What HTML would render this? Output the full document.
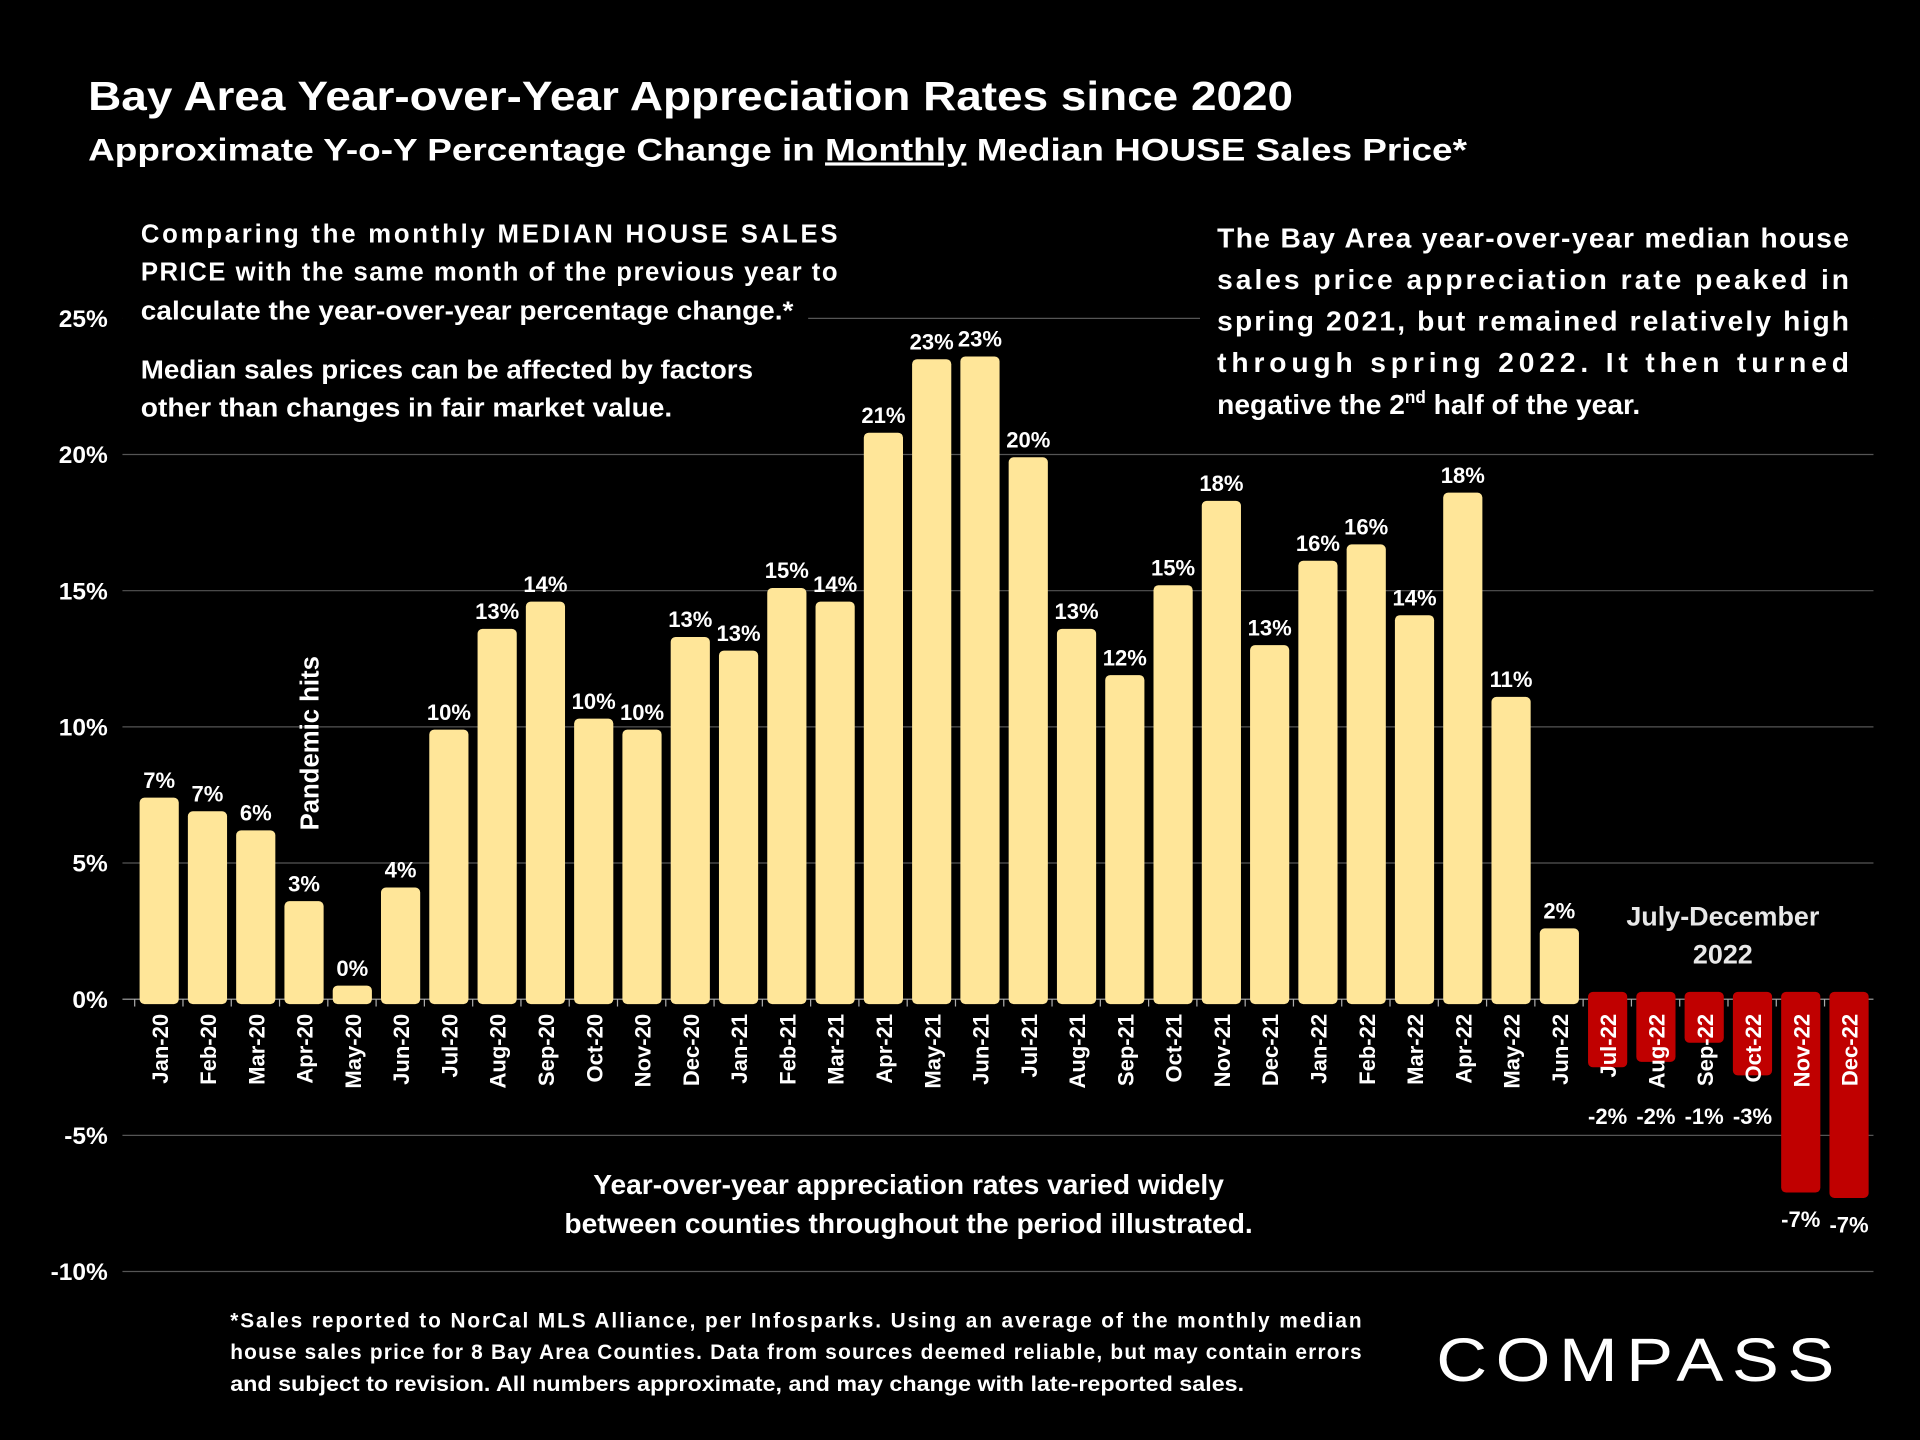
<!DOCTYPE html>
<html><head><meta charset="utf-8"><style>
html,body{margin:0;padding:0;background:#000;}
svg{display:block;font-family:"Liberation Sans",sans-serif;font-weight:bold;}
</style></head><body>
<svg id="chart" width="1920" height="1440" viewBox="0 0 1568 1176" xmlns="http://www.w3.org/2000/svg">
<rect width="1568" height="1176" fill="#000"/>
<text x="72" y="90" fill="#fff" font-size="33" textLength="984" lengthAdjust="spacingAndGlyphs">Bay Area Year-over-Year Appreciation Rates since 2020</text>
<text x="72" y="131" fill="#fff" font-size="26" textLength="1126" lengthAdjust="spacingAndGlyphs">Approximate Y-o-Y Percentage Change in <tspan text-decoration="underline">Monthly</tspan> Median HOUSE Sales Price*</text>
<g id="grid"></g>
<rect x="100" y="172" width="560" height="180" fill="#000"/>
<rect x="980" y="172" width="550" height="180" fill="#000"/>
<g id="yticks"></g>
<g id="bars"></g>
<g id="xlabels"></g>
<g id="vlabels"></g>
<g fill="#fff" font-size="21">
<text x="115" y="198" textLength="569" lengthAdjust="spacing">Comparing the monthly MEDIAN HOUSE SALES</text>
<text x="115" y="229" textLength="569" lengthAdjust="spacing">PRICE with the same month of the previous year to</text>
<text x="115" y="261" textLength="533" lengthAdjust="spacingAndGlyphs">calculate the year-over-year percentage change.*</text>
<text x="115" y="309" textLength="500" lengthAdjust="spacingAndGlyphs">Median sales prices can be affected by factors</text>
<text x="115" y="340" textLength="434" lengthAdjust="spacingAndGlyphs">other than changes in fair market value.</text>
</g>
<g fill="#fff" font-size="23">
<text x="994" y="202" textLength="516" lengthAdjust="spacing">The Bay Area year-over-year median house</text>
<text x="994" y="236" textLength="516" lengthAdjust="spacing">sales price appreciation rate peaked in</text>
<text x="994" y="270" textLength="516" lengthAdjust="spacing">spring 2021, but remained relatively high</text>
<text x="994" y="304" textLength="516" lengthAdjust="spacing">through spring 2022. It then turned</text>
<text x="994" y="338">negative the 2<tspan font-size="14" dy="-9">nd</tspan><tspan dy="9"> half of the year.</tspan></text>
</g>
<text transform="translate(260,607) rotate(-90)" text-anchor="middle" fill="#fff" font-size="21">Pandemic hits</text>
<g fill="#e8e8e8" font-size="22" text-anchor="middle">
<text x="1407" y="756">July-December</text><text x="1407" y="787">2022</text></g>
<g fill="#fff" font-size="23" text-anchor="middle">
<text x="742" y="975">Year-over-year appreciation rates varied widely</text>
<text x="742" y="1007">between counties throughout the period illustrated.</text></g>
<g fill="#fff" font-size="17">
<text x="188" y="1084" textLength="924" lengthAdjust="spacing">*Sales reported to NorCal MLS Alliance, per Infosparks. Using an average of the monthly median</text>
<text x="188" y="1110" textLength="924" lengthAdjust="spacing">house sales price for 8 Bay Area Counties. Data from sources deemed reliable, but may contain errors</text>
<text x="188" y="1136" textLength="828" lengthAdjust="spacingAndGlyphs">and subject to revision. All numbers approximate, and may change with late-reported sales.</text></g>
<text x="1173" y="1128" fill="#fff" font-size="50" font-weight="normal" letter-spacing="6" textLength="332" lengthAdjust="spacingAndGlyphs">COMPASS</text>
</svg>
<script>
const categories=["Jan-20","Feb-20","Mar-20","Apr-20","May-20","Jun-20","Jul-20","Aug-20","Sep-20","Oct-20","Nov-20","Dec-20","Jan-21","Feb-21","Mar-21","Apr-21","May-21","Jun-21","Jul-21","Aug-21","Sep-21","Oct-21","Nov-21","Dec-21","Jan-22","Feb-22","Mar-22","Apr-22","May-22","Jun-22","Jul-22","Aug-22","Sep-22","Oct-22","Nov-22","Dec-22"];
const values=[7.4,6.9,6.2,3.6,0.5,4.1,9.9,13.6,14.6,10.3,9.9,13.3,12.8,15.1,14.6,20.8,23.5,23.6,19.9,13.6,11.9,15.2,18.3,13.0,16.1,16.7,14.1,18.6,11.1,2.6,-2.5,-2.3,-1.6,-2.8,-7.1,-7.3];
const valueLabels=["7%","7%","6%","3%","0%","4%","10%","13%","14%","10%","10%","13%","13%","15%","14%","21%","23%","23%","20%","13%","12%","15%","18%","13%","16%","16%","14%","18%","11%","2%","-2%","-2%","-1%","-3%","-7%","-7%"];
const yTicks=[-10,-5,0,5,10,15,20,25];
const NS="http://www.w3.org/2000/svg";
const y=v=>816-v*22.24;
const x=i=>130+i*39.43;
const BW=32;
function mk(tag,attrs,parent,txt){const e=document.createElementNS(NS,tag);for(const k in attrs)e.setAttribute(k,attrs[k]);if(txt!==undefined)e.textContent=txt;parent.appendChild(e);return e;}
const grid=document.getElementById('grid'),yt=document.getElementById('yticks'),bars=document.getElementById('bars'),xl=document.getElementById('xlabels'),vl=document.getElementById('vlabels');
yTicks.forEach(t=>{
 const l=mk('line',{x1:100,x2:1530,y1:y(t),y2:y(t),stroke:t===0?'#aaa':'#555','stroke-width':1},grid);
 
 
 const tx=mk('text',{x:88,y:y(t)+7,'text-anchor':'end',fill:'#fff','font-size':20},yt,t+'%');
 
 
});
values.forEach((v,i)=>{
 const cx=x(i);
 let r;
 if(v>=0){
  const top=y(v);
  r=mk('rect',{x:cx-BW/2,y:top,width:BW,height:y(0)-top+4,rx:4,fill:'#FFE699'},bars);
 }else{
  const bot=y(v);
  r=mk('rect',{x:cx-BW/2,y:y(0)-6,width:BW,height:bot-y(0)+6,rx:4,fill:'#C00000'},bars);
 }
 
 
 const tk=mk('line',{x1:cx-BW/2-4,x2:cx-BW/2-4,y1:y(0),y2:y(0)+6,stroke:'#aaa'},grid);
 
 
 const lab=mk('text',{transform:`translate(${cx+7},828) rotate(-90)`,'text-anchor':'end',fill:'#fff','font-size':18},xl,categories[i]);
 
 
 const ly=v>=0?y(v)-8:Math.max(y(v)+28,918);
 const vt=mk('text',{x:cx,y:ly,'text-anchor':'middle',fill:'#fff','font-size':18},vl,valueLabels[i]);
 
 
});
</script>
</body></html>
